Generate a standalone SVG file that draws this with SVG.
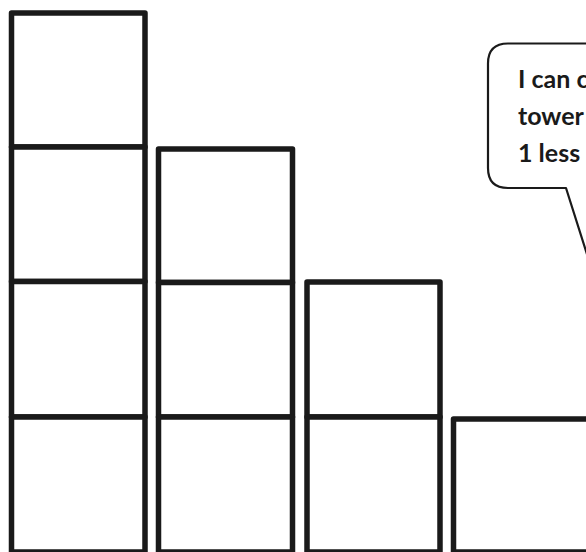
<svg xmlns="http://www.w3.org/2000/svg" width="586" height="552" viewBox="0 0 586 552">
<style>
.blk{fill:#fff;stroke:#1a1a1a;stroke-width:5.5;stroke-linejoin:round}
.bub{fill:#fff;stroke:#1a1a1a;stroke-width:2.2;stroke-linejoin:round}
.txt{font-family:Lato,"Liberation Sans",sans-serif;font-weight:700;font-size:25px;fill:#1a1a1a}
</style>
<rect width="586" height="552" fill="#fff"/>
<g id="tower1">
<rect class="blk" x="11.5" y="13" width="133.5" height="134"/>
<rect class="blk" x="11.5" y="147" width="133.5" height="134.5"/>
<rect class="blk" x="11.5" y="281.5" width="133.5" height="135.5"/>
<rect class="blk" x="11.5" y="417" width="133.5" height="135"/>
</g>
<g id="tower2">
<rect class="blk" x="158.5" y="149" width="134" height="133.5"/>
<rect class="blk" x="158.5" y="282.5" width="134" height="134.5"/>
<rect class="blk" x="158.5" y="417" width="134" height="135"/>
</g>
<g id="tower3">
<rect class="blk" x="307" y="282" width="133" height="135"/>
<rect class="blk" x="307" y="417" width="133" height="135"/>
</g>
<g id="tower4">
<rect class="blk" x="453.5" y="419" width="140" height="133"/>
</g>
<g id="bubble">
<path class="bub" d="M600,43.5 H508 Q488,43.5 488,63.5 V168 Q488,188 508,188 H566 L592,270"/>
<text class="txt" x="518" y="88">I can c</text>
<text class="txt" x="518" y="125">tower</text>
<text class="txt" x="518" y="162">1 less</text>
</g>
</svg>
